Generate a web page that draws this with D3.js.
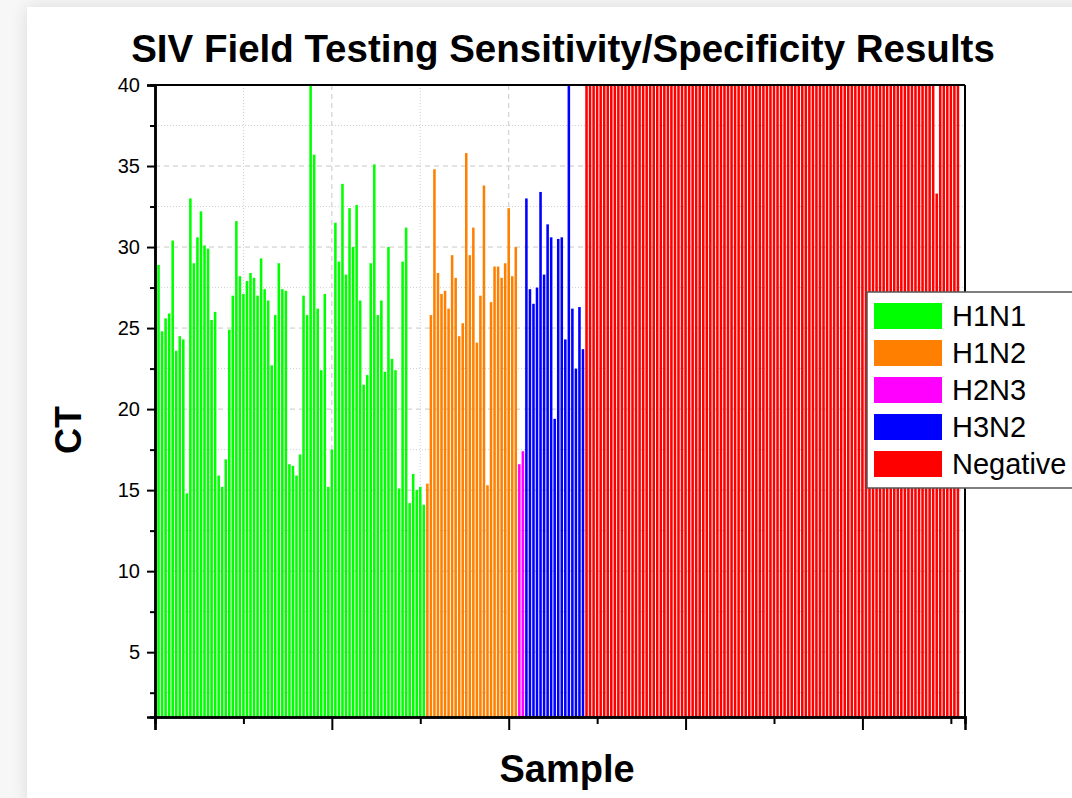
<!DOCTYPE html>
<html>
<head>
<meta charset="utf-8">
<script src="https://cdn.jsdelivr.net/npm/d3@7"></script>
<style>
  body { margin: 0; background: #f7f7f7; }
  svg { display: block; font-family: "Liberation Sans", Arial, sans-serif; }
</style>
</head>
<body>
<div id="chart"></div>
<script>
// groups shown in the legend, in order
var categories = ["H1N1", "H1N2", "H2N3", "H3N2", "Negative"];
var colors = ["#00ff00", "#ff8000", "#ff00ff", "#0000ff", "#ff0000"];

// CT values, sample after sample
var h1n1Values = [
    28.9, 24.8, 25.6, 25.9, 30.4, 23.6, 24.5, 24.3, 14.8, 33.0,
    29.0, 30.6, 32.2, 30.1, 29.9, 25.5, 26.0, 15.9, 15.2, 16.9,
    24.9, 27.0, 31.6, 28.2, 27.1, 27.9, 28.4, 28.1, 27.0, 29.3,
    27.4, 26.7, 22.7, 25.8, 29.0, 27.4, 27.3, 16.6, 16.5, 15.9,
    17.2, 27.0, 25.8, 40.0, 35.7, 26.2, 22.4, 27.1, 15.2, 17.5,
    31.5, 29.1, 33.9, 28.3, 32.4, 30.0, 32.6, 26.7, 21.5, 22.1,
    29.0, 35.1, 25.8, 26.7, 22.3, 30.0, 23.1, 22.4, 15.1, 29.1,
    31.2, 14.2, 16.0, 15.0, 15.2, 14.1
];
var h1n2Values = [
    15.4, 25.8, 34.8, 28.4, 27.1, 27.3, 26.2, 29.5, 28.1, 24.5,
    25.3, 35.8, 29.5, 31.2, 24.1, 27.0, 33.8, 15.3, 26.6, 28.8,
    28.8, 28.1, 29.0, 32.4, 28.2, 30.0
];
var h2n3Values = [16.6, 17.4];
var h3n2Values = [
    33.0, 27.4, 26.5, 27.5, 33.4, 28.3, 31.4, 30.6, 19.4, 30.5,
    30.6, 24.3, 40.0, 26.2, 22.5, 26.3, 23.7
];
var negativeValues = [
    40, 40, 40, 40, 40, 40, 40, 40, 40, 40,
    40, 40, 40, 40, 40, 40, 40, 40, 40, 40,
    40, 40, 40, 40, 40, 40, 40, 40, 40, 40,
    40, 40, 40, 40, 40, 40, 40, 40, 40, 40,
    40, 40, 40, 40, 40, 40, 40, 40, 40, 40,
    40, 40, 40, 40, 40, 40, 40, 40, 40, 40,
    40, 40, 40, 40, 40, 40, 40, 40, 40, 40,
    40, 40, 40, 40, 40, 40, 40, 40, 40, 40,
    40, 40, 40, 40, 40, 40, 40, 40, 40, 40,
    40, 40, 40, 40, 40, 40, 40, 40, 40, 33.3,
    40, 40, 40, 40, 40, 40
];

var yMajorTicks = [5, 10, 15, 20, 25, 30, 35, 40];
var yMinorTicks = [2.5, 7.5, 12.5, 17.5, 22.5, 27.5, 32.5, 37.5];
var xMajorTicks = [0, 50, 100, 150, 200];
var xMinorTicks = [25, 75, 125, 175, 225];

var svgWidth = 1072;
var svgHeight = 798;

var margin = { top: 85, bottom: 81, left: 155, right: 107 };
var width = svgWidth - margin.left - margin.right;
var height = svgHeight - margin.top - margin.bottom;

var svg = d3.select("#chart")
    .append("svg")
    .attr("width", svgWidth)
    .attr("height", svgHeight);

// soft shadowed white panel behind the chart
var defs = svg.append("defs");
var shadow = defs.append("filter").attr("id", "shadow")
    .attr("x", "-10%").attr("y", "-10%").attr("width", "120%").attr("height", "120%");
shadow.append("feGaussianBlur").attr("in", "SourceAlpha").attr("stdDeviation", 9);
shadow.append("feComponentTransfer").append("feFuncA").attr("type", "linear").attr("slope", 0.12);
var merge = shadow.append("feMerge");
merge.append("feMergeNode");
merge.append("feMergeNode").attr("in", "SourceGraphic");

svg.append("rect")
    .attr("x", 27).attr("y", 7)
    .attr("width", svgWidth).attr("height", svgHeight)
    .attr("fill", "#fff")
    .attr("filter", "url(#shadow)");

// flatten groups into one list of samples
var samples = [];
[h1n1Values, h1n2Values, h2n3Values, h3n2Values, negativeValues].forEach(function (vals, g) {
    vals.forEach(function (v) {
        samples.push({ idx: samples.length + 1, ct: v, group: g });
    });
});

var chartGroup = svg.append("g")
    .attr("transform", `translate(${margin.left}, ${margin.top})`);

var xScale = d3.scaleLinear().domain([0, 229]).range([0, width]);
var yScale = d3.scaleLinear().domain([1, 40]).range([height, 0]);

// grid lines
chartGroup.append("g").selectAll("line")
    .data(yMinorTicks).enter().append("line")
    .attr("x1", 0).attr("x2", width)
    .attr("y1", d => yScale(d)).attr("y2", d => yScale(d))
    .attr("stroke", "#d0d0d0").attr("stroke-dasharray", "1,2");
chartGroup.append("g").selectAll("line")
    .data(yMajorTicks).enter().append("line")
    .attr("x1", 0).attr("x2", width)
    .attr("y1", d => yScale(d)).attr("y2", d => yScale(d))
    .attr("stroke", "#c8c8c8").attr("stroke-dasharray", "5,4");
chartGroup.append("g").selectAll("line")
    .data(xMinorTicks).enter().append("line")
    .attr("y1", 0).attr("y2", height)
    .attr("x1", d => xScale(d)).attr("x2", d => xScale(d))
    .attr("stroke", "#d0d0d0").attr("stroke-dasharray", "1,2");
chartGroup.append("g").selectAll("line")
    .data(xMajorTicks.slice(1)).enter().append("line")
    .attr("y1", 0).attr("y2", height)
    .attr("x1", d => xScale(d)).attr("x2", d => xScale(d))
    .attr("stroke", "#c8c8c8").attr("stroke-dasharray", "5,4");

// bars
var step = xScale(1) - xScale(0);
var barW = step * 0.72;
chartGroup.append("g").selectAll("rect")
    .data(samples).enter().append("rect")
    .attr("x", d => xScale(d.idx) - barW / 2)
    .attr("width", barW)
    .attr("y", d => yScale(d.ct))
    .attr("height", d => height - yScale(d.ct))
    .attr("fill", d => colors[d.group]);

// frame top and right
chartGroup.append("line")
    .attr("x1", 0).attr("x2", width).attr("y1", 0).attr("y2", 0)
    .attr("stroke", "#000").attr("stroke-width", 2);
chartGroup.append("line")
    .attr("x1", width).attr("x2", width).attr("y1", 0).attr("y2", height)
    .attr("stroke", "#000").attr("stroke-width", 2);

// axes
var yAxis = d3.axisLeft(yScale).tickValues(yMajorTicks).tickSize(8).tickPadding(7);
var yAxisMinor = d3.axisLeft(yScale).tickValues(yMinorTicks).tickSize(5).tickFormat("");
var xAxis = d3.axisBottom(xScale).tickValues(xMajorTicks).tickSize(13).tickFormat("");
var xAxisMinor = d3.axisBottom(xScale).tickValues(xMinorTicks).tickSize(7).tickFormat("");

var yG = chartGroup.append("g").call(yAxis)
    .attr("font-family", "Liberation Sans, Arial, sans-serif")
    .attr("font-size", 20);
chartGroup.append("g").call(yAxisMinor);
chartGroup.append("g").attr("transform", `translate(0, ${height})`).call(xAxis);
chartGroup.append("g").attr("transform", `translate(0, ${height})`).call(xAxisMinor);

chartGroup.selectAll(".domain").attr("stroke-width", 2.5);
chartGroup.selectAll(".tick line").attr("stroke-width", 2);
yG.selectAll("text").attr("fill", "#000");

// title and axis labels
svg.append("text")
    .attr("x", 563).attr("y", 62)
    .attr("text-anchor", "middle")
    .attr("font-size", 38.5).attr("font-weight", "bold")
    .text("SIV Field Testing Sensitivity/Specificity Results");

svg.append("text")
    .attr("transform", "translate(81, 430) rotate(-90)")
    .attr("text-anchor", "middle")
    .attr("font-size", 36).attr("font-weight", "bold")
    .text("CT");

svg.append("text")
    .attr("x", 567).attr("y", 782)
    .attr("text-anchor", "middle")
    .attr("font-size", 38).attr("font-weight", "bold")
    .text("Sample");

// legend
var legend = svg.append("g").attr("transform", "translate(867, 292)");
legend.append("rect")
    .attr("width", 230).attr("height", 196)
    .attr("fill", "#fff").attr("stroke", "#555").attr("stroke-width", 1.5);

var items = legend.selectAll(".item")
    .data(categories).enter().append("g")
    .attr("transform", (d, i) => `translate(0, ${24 + i * 37})`);
items.append("rect")
    .attr("x", 7).attr("y", -13)
    .attr("width", 68).attr("height", 26)
    .attr("fill", (d, i) => colors[i]);
items.append("text")
    .attr("x", 85).attr("y", 10)
    .attr("font-size", 29)
    .text(d => d);
</script>
</body>
</html>
